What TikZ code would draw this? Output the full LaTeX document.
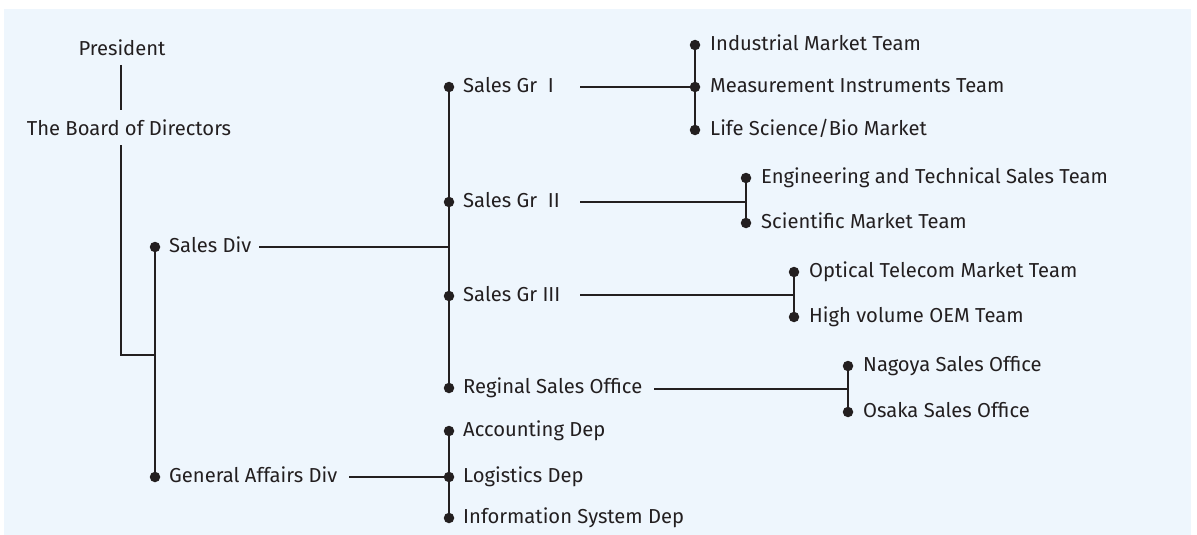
\documentclass[tikz,border=0pt]{standalone}
\usepackage{fontspec}
\setmainfont{Fira Sans}
\definecolor{ink}{HTML}{231F20}
\definecolor{bg}{RGB}{238,246,253}
\begin{document}
\begin{tikzpicture}[x=1pt,y=-1pt,
  dot/.style={circle,fill=ink,inner sep=0pt,minimum size=10.5pt},
  lbl/.style={anchor=base west,inner sep=0pt,text=ink,font=\fontsize{20.2}{22}\selectfont},
  ttl/.style={anchor=base,inner sep=0pt,text=ink,font=\fontsize{20.2}{22}\selectfont},
  conn/.style={draw=ink,line width=1.7pt},
]
\useasboundingbox (0,0) rectangle (1197,535);
\fill[bg] (4,9) rectangle (1191,535);

% top
\node[ttl] (pres) at (122,56) {President};
\node[ttl] (board) at (129,135) {The Board of Directors};
\coordinate (pb1) at (121,65);
\coordinate (pb2) at (121,110);
\coordinate (bd) at (121,145);
\coordinate (elbow) at (121,355);
\coordinate (jdiv) at (155,355);
\draw[conn] (pb1) -- (pb2);
\draw[conn] (bd) -- (elbow) -- (jdiv);

% divisions
\node[dot] (sd) at (155,247) {};
\node[dot] (ga) at (155,477) {};
\draw[conn] (sd) -- (ga);
\node[lbl] (sdt) at ([xshift=14pt,yshift=-5.5pt]sd) {Sales Div};
\node[lbl] (gat) at ([xshift=14pt,yshift=-5.5pt]ga) {General Affairs Div};

% sales groups
\node[dot] (sg1) at (449,87) {};
\node[dot] (sg2) at (449,202) {};
\node[dot] (sg3) at (449,296) {};
\node[dot] (rs) at (449,388) {};
\draw[conn] (sg1) -- (rs);
\coordinate (sdj) at (449,247);
\draw[conn] ([xshift=8pt]sdt.east |- sd) -- (sdj);
\node[lbl] (sg1t) at ([xshift=14pt,yshift=-5.5pt]sg1) {Sales Gr\ \ I};
\node[lbl] (sg2t) at ([xshift=14pt,yshift=-5.5pt]sg2) {Sales Gr\ \ II};
\node[lbl] (sg3t) at ([xshift=14pt,yshift=-5.5pt]sg3) {Sales Gr III};
\node[lbl] (rst) at ([xshift=14pt,yshift=-5.5pt]rs) {Reginal Sales Office};

% general affairs deps
\node[dot] (acc) at (449,431) {};
\node[dot] (log) at (449,477) {};
\node[dot] (inf) at (449,518) {};
\draw[conn] (acc) -- (inf);
\draw[conn] ([xshift=12pt]gat.east |- ga) -- (log);
\node[lbl] (acct) at ([xshift=14pt,yshift=-5.5pt]acc) {Accounting Dep};
\node[lbl] (logt) at ([xshift=14pt,yshift=-5.5pt]log) {Logistics Dep};
\node[lbl] (inft) at ([xshift=14pt,yshift=-5.5pt]inf) {Information System Dep};

% Sales Gr I teams
\node[dot] (t11) at (695,45) {};
\node[dot] (t12) at (695,87) {};
\node[dot] (t13) at (695,130) {};
\draw[conn] (t11) -- (t13);
\coordinate (sg1o) at (580,87);
\draw[conn] (sg1o) -- (t12);
\node[lbl] at ([xshift=15pt,yshift=-5.5pt]t11) {Industrial Market Team};
\node[lbl] at ([xshift=15pt,yshift=-5.5pt]t12) {Measurement Instruments Team};
\node[lbl] at ([xshift=15pt,yshift=-5.5pt]t13) {Life Science/Bio Market};

% Sales Gr II teams
\node[dot] (t21) at (746,178) {};
\node[dot] (t22) at (746,223) {};
\draw[conn] (t21) -- (t22);
\coordinate (sg2o) at (580,202);
\coordinate (sg2j) at (746,202);
\draw[conn] (sg2o) -- (sg2j);
\node[lbl] at ([xshift=15pt,yshift=-5.5pt]t21) {Engineering and Technical Sales Team};
\node[lbl] at ([xshift=15pt,yshift=-5.5pt]t22) {Scientific Market Team};

% Sales Gr III teams
\node[dot] (t31) at (794,272) {};
\node[dot] (t32) at (794,317) {};
\draw[conn] (t31) -- (t32);
\coordinate (sg3o) at (580,295);
\coordinate (sg3j) at (794,295);
\draw[conn] (sg3o) -- (sg3j);
\node[lbl] at ([xshift=15pt,yshift=-5.5pt]t31) {Optical Telecom Market Team};
\node[lbl] at ([xshift=15pt,yshift=-5.5pt]t32) {High volume OEM Team};

% Regional offices
\node[dot] (o1) at (848,366) {};
\node[dot] (o2) at (848,412) {};
\draw[conn] (o1) -- (o2);
\coordinate (rsj) at (848,389);
\draw[conn] ([xshift=12pt]rst.east |- rsj) -- (rsj);
\node[lbl] at ([xshift=15pt,yshift=-5.5pt]o1) {Nagoya Sales Office};
\node[lbl] at ([xshift=15pt,yshift=-5.5pt]o2) {Osaka Sales Office};
\end{tikzpicture}
\end{document}
